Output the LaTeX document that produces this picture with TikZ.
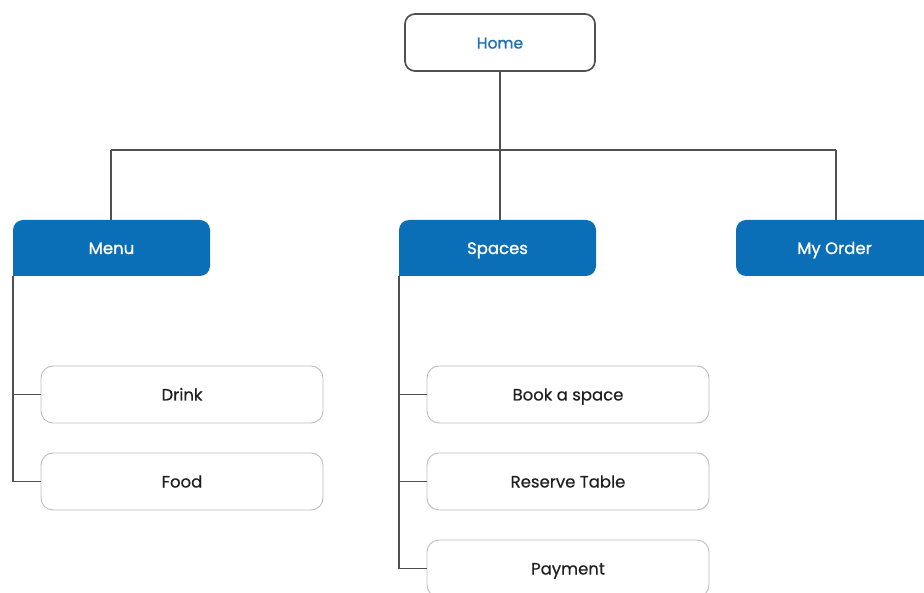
\documentclass[tikz,border=0pt]{standalone}
\usepackage{fontspec}
\setmainfont{Poppins}
\usetikzlibrary{backgrounds}
\definecolor{bluebox}{HTML}{0A6FB7}
\definecolor{hometext}{HTML}{1F72B0}
\definecolor{linegray}{HTML}{505050}
\definecolor{boxgray}{HTML}{BDBDBD}
\begin{document}
\begin{tikzpicture}[x=1pt,y=-1pt,
  every node/.style={text height=13pt, text depth=1pt},
  homebox/.style={draw=linegray, line width=1.7pt, rounded corners=10pt, fill=white,
    minimum width=190pt, minimum height=57pt, text=hometext, font=\fontsize{15.5}{18}\selectfont\addfontfeatures{FakeBold=1.2}},
  bluenode/.style={fill=bluebox, rounded corners=10pt, minimum width=197pt, minimum height=56pt,
    text=white, font=\fontsize{16.5}{19}\selectfont\addfontfeatures{FakeBold=1.2}},
  leafbox/.style={draw=boxgray, line width=0.9pt, rounded corners=12pt, fill=white,
    minimum width=282pt, minimum height=57pt, text=black!88, font=\fontsize{16.5}{19}\selectfont\addfontfeatures{FakeBold=0.4}},
  conn/.style={draw=linegray, line width=1.8pt}
]
\clip (0,0) rectangle (924,593);
\useasboundingbox (0,0) rectangle (924,593);

\node[homebox] (home) at (500,42.5) {Home};
\node[bluenode] (menu) at (111.5,248) {Menu};
\node[bluenode] (spaces) at (497.5,248) {Spaces};
\node[bluenode] (order) at (834.5,248) {My Order};
% square bottom-left corners where the branch lines leave
\begin{scope}[on background layer]
\fill[bluebox] (menu.south west) rectangle ++(12,-12);
\fill[bluebox] (spaces.south west) rectangle ++(12,-12);
\end{scope}

\node[leafbox] (drink) at (182,394.5) {Drink};
\node[leafbox] (food) at (182,481.5) {Food};
\node[leafbox] (book) at (568,394.5) {Book a space};
\node[leafbox] (reserve) at (568,481.5) {Reserve Table};
\node[leafbox] (payment) at (568,568.5) {Payment};

% top-level tree
\coordinate (bus) at (500,150);
\coordinate (busL) at (111,150);
\coordinate (busR) at (836,150);
\draw[conn] (home.south) -- (bus);
\draw[conn] (busL) -- (busR);
\draw[conn] (busL) -- (busL |- menu.north);
\draw[conn] (bus) -- (bus |- spaces.north);
\draw[conn] (busR) -- (busR |- order.north);

% Menu children
\draw[conn] (menu.south west) -- (menu.south west |- food.west) -- (food.west);
\draw[conn] (menu.south west |- drink.west) -- (drink.west);
% Spaces children
\draw[conn] (spaces.south west) -- (spaces.south west |- payment.west) -- (payment.west);
\draw[conn] (spaces.south west |- book.west) -- (book.west);
\draw[conn] (spaces.south west |- reserve.west) -- (reserve.west);
\end{tikzpicture}
\end{document}
